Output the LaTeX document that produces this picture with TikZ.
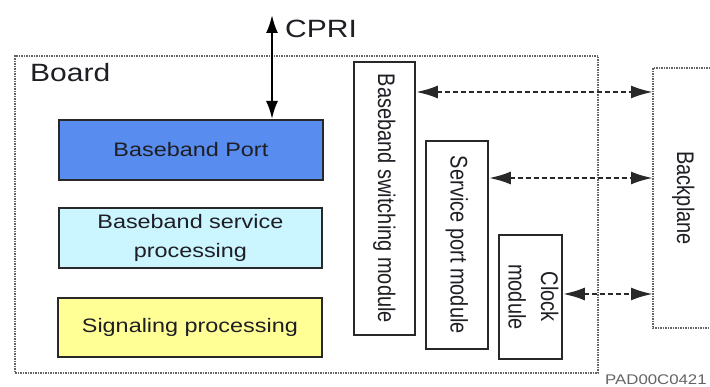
\documentclass[tikz,border=0pt]{standalone}
\usepackage{fontspec}
\setmainfont{Liberation Sans}
\newfontfamily\widesans[FakeStretch=1.2]{Liberation Sans}
\usetikzlibrary{arrows.meta}

\definecolor{edgegray}{RGB}{40,40,40}
\definecolor{dotgray}{RGB}{100,100,100}
\definecolor{inkgray}{RGB}{30,30,36}
\definecolor{portblue}{RGB}{88,140,238}
\definecolor{svccyan}{RGB}{204,246,255}
\definecolor{sigyellow}{RGB}{255,255,150}

\begin{document}
\begin{tikzpicture}[x=1pt,y=-1pt,
  block/.style={draw=edgegray,line width=1.8pt,inner sep=0pt,anchor=north west,
    align=center,text=inkgray,font=\widesans\fontsize{19.5}{29}\selectfont},
  vtext/.style={rotate=-90,yscale=1.2,inner sep=0pt,align=center,text=inkgray,
    font=\fontsize{20}{27}\selectfont},
  frameline/.style={draw=dotgray,line width=2pt,dash pattern=on 1.5pt off 1pt},
  bus/.style={{Latex[length=22pt,width=13pt]}-{Latex[length=22pt,width=13pt]},
    draw=edgegray,line width=2.6pt,dash pattern=on 5pt off 3pt},
  cpriline/.style={{Latex[length=18pt,width=12pt]}-{Latex[length=18pt,width=12pt]},
    draw=black,line width=2.2pt}]

\useasboundingbox (0,0) rectangle (710,387);
\fill[white] (0,0) rectangle (710,387);

% board outline and its title
\node[frameline,inner sep=0pt,anchor=north west,minimum width=583,minimum height=317]
  (board) at (14,55) {};
\node[anchor=base west,inner sep=0pt,text=inkgray,font=\widesans\fontsize{25}{30}\selectfont]
  (boardlabel) at (30,82) {Board};

% processing blocks on the left
\node[block,fill=portblue,minimum width=264,minimum height=60] (port) at (58,119) {Baseband Port};
\node[block,fill=svccyan,minimum width=263,minimum height=60] (svc) at (58,207)
  {Baseband service\\processing};
\node[block,fill=sigyellow,minimum width=264,minimum height=59] (sig) at (57,297)
  {Signaling processing};

% upright modules with vertical captions
\node[block,minimum width=61,minimum height=273] (switch) at (353,61) {};
\node[vtext] (switchtext) at (switch.center) {Baseband switching module};
\node[block,minimum width=62,minimum height=208] (svcport) at (425,140) {};
\node[vtext] (svcporttext) at (svcport.center) {Service port module};
\node[block,minimum width=63,minimum height=124] (clock) at (498,234) {};
\node[vtext] (clocktext) at ([xshift=3]clock.center) {Clock\\module};

% backplane, open towards the right edge
\node[inner sep=0pt,anchor=north west,minimum width=57,minimum height=260] (back) at (653,68) {};
\draw[frameline] (back.north east) -- (back.north west) -- (back.south west) -- (back.south east);
\node[vtext] (backtext) at ([xshift=1.5]back.center) {Backplane};

% CPRI interface
\coordinate (cpritop) at (272,15);
\draw[cpriline] (cpritop) -- (cpritop |- port.north);
\node[anchor=base west,inner sep=0pt,text=inkgray,font=\widesans\fontsize{25}{30}\selectfont]
  (cprilabel) at (285,38) {CPRI};

% links to the backplane
\coordinate (lvA) at (0,92);
\coordinate (lvB) at (0,178);
\coordinate (lvC) at (0,294);
\draw[bus] (switch.east |- lvA) -- (back.west |- lvA);
\draw[bus] (svcport.east |- lvB) -- (back.west |- lvB);
\draw[bus] (clock.east |- lvC) -- (back.west |- lvC);

% drawing number
\node[anchor=base west,inner sep=0pt,text=dotgray,font=\widesans\fontsize{14}{16}\selectfont]
  (drawno) at (605,385) {PAD00C0421};
\end{tikzpicture}
\end{document}
